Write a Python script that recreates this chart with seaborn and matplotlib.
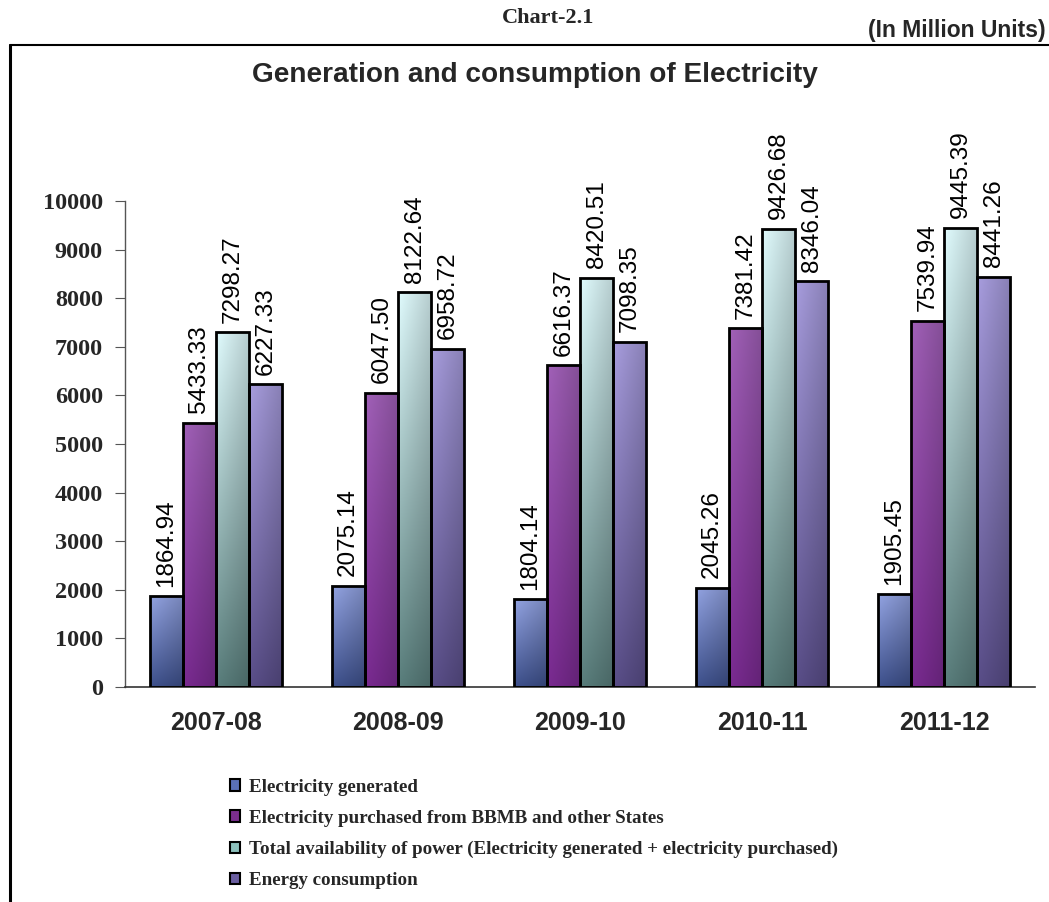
import matplotlib
matplotlib.use("Agg")
import matplotlib.pyplot as plt
from matplotlib.lines import Line2D
from matplotlib.patches import Patch
from matplotlib.colors import to_rgb
import seaborn as sns
import pandas as pd
import numpy as np

years = ["2007-08", "2008-09", "2009-10", "2010-11", "2011-12"]
generated = [1864.94, 2075.14, 1804.14, 2045.26, 1905.45]
purchased = [5433.33, 6047.50, 6616.37, 7381.42, 7539.94]
total_avail = [7298.27, 8122.64, 8420.51, 9426.68, 9445.39]
consumption = [6227.33, 6958.72, 7098.35, 8346.04, 8441.26]

series_names = [
    "Electricity generated",
    "Electricity purchased from BBMB and other States",
    "Total availability of power (Electricity generated + electricity purchased)",
    "Energy consumption",
]
# top / bottom colours of each bar gradient, plus a flat colour for the legend
top_cols = ["#8c9cd8", "#9a5cb0", "#d6f0f2", "#a096d4"]
bot_cols = ["#3b4d86", "#74288a", "#557876", "#554a82"]
key_cols = ["#5a70b8", "#7a2e8e", "#8cc0bc", "#6a5ea0"]

rows = []
for name, vals in zip(series_names, [generated, purchased, total_avail, consumption]):
    for yr, v in zip(years, vals):
        rows.append({"year": yr, "series": name, "value": v})
df = pd.DataFrame(rows)

sns.set_style("white")
plt.rcParams["font.family"] = ["Liberation Sans", "DejaVu Sans"]

fig = plt.figure(figsize=(10.49, 9.02), dpi=100)
ax = fig.add_axes([125 / 1049, 1 - 687 / 902, 910 / 1049, 486 / 902])

sns.barplot(data=df, x="year", y="value", hue="series", hue_order=series_names,
            palette=bot_cols, width=0.73, ax=ax, legend=False,
            edgecolor="black", linewidth=2, errorbar=None)

# gradient fill clipped to each bar
n = len(years)
for i, patch in enumerate(ax.patches[:n * 4]):
    s = i // n
    x0, w, h = patch.get_x(), patch.get_width(), patch.get_height()
    t = np.array(to_rgb(top_cols[s]))
    b = np.array(to_rgb(bot_cols[s]))
    vy = np.linspace(0, 1, 100)[:, None, None]
    hx = np.linspace(0, 1, 40)[None, :, None]
    img = t * (1 - vy) + b * vy
    shade = 1.05 - 0.2 * hx
    img = np.clip(img * shade, 0, 1)
    im = ax.imshow(img, extent=[x0, x0 + w, 0, h], aspect="auto",
                   origin="upper", zorder=2)
    im.set_clip_path(patch)
    patch.set_facecolor("none")
    patch.set_zorder(3)

for cont in ax.containers:
    ax.bar_label(cont, fmt="{:.2f}", rotation=90, padding=7,
                 fontsize=17.5, color="black", zorder=4)

ax.set_xlim(-0.5, n - 0.5)
ax.set_ylim(0, 10000)
ax.set_yticks(range(0, 10001, 1000))
ax.set_yticklabels([str(v) for v in range(0, 10001, 1000)],
                   family="Liberation Serif", fontweight="bold", fontsize=17.5)
ax.set_xticks(range(n))
ax.set_xticklabels(years, fontweight="bold", fontsize=18)
ax.set_xticks(np.arange(-0.5, n, 1.0), minor=True)
ax.tick_params(axis="x", which="major", length=0, pad=17)
ax.tick_params(axis="x", which="minor", length=7, color="#888888", direction="out")
ax.tick_params(axis="y", length=7, color="#555555", direction="out", pad=9, left=True)
ax.set_xlabel("")
ax.set_ylabel("")
sns.despine(ax=ax)
ax.spines["left"].set_color("#555555")
ax.spines["bottom"].set_color("#333333")
ax.spines["left"].set_linewidth(1)
ax.spines["bottom"].set_linewidth(1.2)

# outer frame
fy = 1 - 45 / 902
fx = 10 / 1049
fig.add_artist(Line2D([fx, fx], [0, fy], color="black", lw=2.2))
fig.add_artist(Line2D([fx, 1], [fy, fy], color="black", lw=1.5))

fig.text(548 / 1049, 1 - 18 / 902, "Chart-2.1", family="Liberation Serif",
         fontweight="bold", fontsize=16, ha="center", va="center")
fig.text(1046 / 1049, 1 - 30 / 902, "(In Million Units)", fontweight="bold",
         fontsize=16.5, ha="right", va="center")
fig.text(535 / 1049, 1 - 75 / 902, "Generation and consumption of Electricity",
         fontweight="bold", fontsize=20.2, ha="center", va="center")

handles = [Patch(facecolor=c, edgecolor="black", linewidth=1.5) for c in key_cols]
fig.legend(handles, series_names, loc="upper left",
           bbox_to_anchor=(222 / 1049, 1 - 771 / 902), frameon=False,
           prop={"family": "Liberation Serif", "weight": "bold", "size": 13.7},
           handlelength=0.55, handleheight=0.55, handletextpad=0.45,
           labelspacing=0.74, borderaxespad=0)

fig.savefig("out.png", dpi=100)
